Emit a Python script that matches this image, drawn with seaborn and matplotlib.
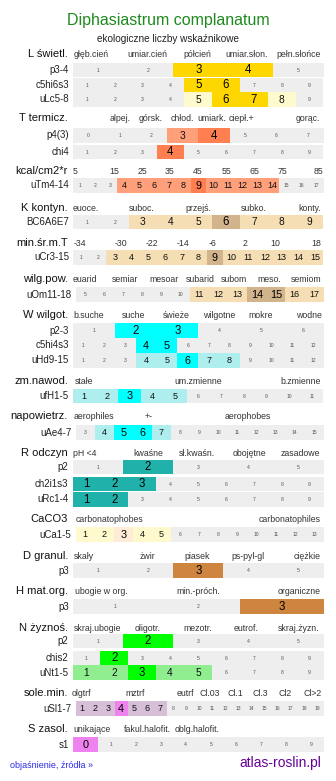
import matplotlib
matplotlib.use("Agg")
import matplotlib.pyplot as plt
import seaborn as sns

# --- dane: skale i wartości wskaźników ---
L_head = ["głęb.cień", "umiar.cień", "półcień", "umiar.słon.", "pełn.słońce"]
L_rows = ["p3-4", "c5hi6s3", "uLc5-8"]
L_scale = [(1, 5), (1, 9), (1, 9)]
L_level = [[0, 0, 2, 2, 0],
           [0, 0, 0, 0, 2, 2, 0, 0, 0],
           [0, 0, 0, 0, 1, 2, 2, 1, 0]]

T_head = ["alpej.", "górsk.", "chłod.", "umiark.", "ciepł.+", "gorąc."]
T_rows = ["p4(3)", "chi4"]
T_scale = [(0, 7), (1, 9)]
T_level = [[0, 0, 0, 1, 2, 0, 0, 0],
           [0, 0, 0, 2, 0, 0, 0, 0, 0]]

kcal_head = ["5", "15", "25", "35", "45", "55", "65", "75", "85"]
kcal_rows = ["uTm4-14"]
kcal_scale = [(1, 17)]
kcal_level = [[0, 0, 0, 1, 1, 1, 1, 1, 2, 1, 1, 1, 1, 1, 0, 0, 0]]

K_head = ["euoce.", "suboc.", "przejś.", "subko.", "konty."]
K_rows = ["BC6A6E7"]
K_scale = [(1, 9)]
K_level = [[0, 0, 1, 1, 1, 2, 1, 1, 1]]

minT_head = ["-34", "-30", "-22", "-14", "-6", "2", "10", "18"]
minT_rows = ["uCr3-15"]
minT_scale = [(1, 15)]
minT_level = [[0, 0, 1, 1, 1, 1, 1, 1, 2, 1, 1, 1, 1, 1, 1]]

wp_head = ["euarid", "semiar", "mesoar", "subarid", "subom", "meso.", "semiom"]
wp_rows = ["uOm11-18"]
wp_scale = [(5, 17)]
wp_level = [[0, 0, 0, 0, 0, 0, 1, 1, 1, 2, 2, 1, 1]]

W_head = ["b.suche", "suche", "świeże", "wilgotne", "mokre", "wodne"]
W_rows = ["p2-3", "c5hi4s3", "uHd9-15"]
W_scale = [(1, 6), (1, 12), (1, 12)]
W_level = [[0, 2, 2, 0, 0, 0],
           [0, 0, 0, 2, 2, 0, 0, 0, 0, 0, 0, 0],
           [0, 0, 0, 1, 1, 2, 1, 1, 0, 0, 0, 0]]

zm_head = ["stałe", "um.zmienne", "b.zmienne"]
zm_rows = ["ufH1-5"]
zm_scale = [(1, 11)]
zm_level = [[1, 1, 2, 1, 1, 0, 0, 0, 0, 0, 0]]

ae_head = ["aerophiles", "+-", "aerophobes"]
ae_rows = ["uAe4-7"]
ae_scale = [(3, 15)]
ae_level = [[0, 1, 2, 2, 1, 0, 0, 0, 0, 0, 0, 0, 0]]

R_head = ["pH <4", "kwaśne", "sł.kwaśn.", "obojętne", "zasadowe"]
R_rows = ["p2", "ch2i1s3", "uRc1-4"]
R_scale = [(1, 5), (1, 9), (1, 9)]
R_level = [[0, 2, 0, 0, 0],
           [2, 2, 2, 0, 0, 0, 0, 0, 0],
           [2, 2, 0, 0, 0, 0, 0, 0, 0]]

Ca_head = ["carbonatophobes", "carbonatophiles"]
Ca_rows = ["uCa1-5"]
Ca_scale = [(1, 13)]
Ca_level = [[1, 1, 2, 1, 1, 0, 0, 0, 0, 0, 0, 0, 0]]

D_head = ["skały", "żwir", "piasek", "ps-pyl-gl", "ciężkie"]
D_rows = ["p3"]
D_scale = [(1, 5)]
D_level = [[0, 0, 2, 0, 0]]

H_head = ["ubogie w org.", "min.-próch.", "organiczne"]
H_rows = ["p3"]
H_scale = [(1, 3)]
H_level = [[0, 0, 2]]

N_head = ["skraj.ubogie", "oligotr.", "mezotr.", "eutrof.", "skraj.żyzn."]
N_rows = ["p2", "chis2", "uNt1-5"]
N_scale = [(1, 5), (1, 9), (1, 9)]
N_level = [[0, 2, 0, 0, 0],
           [0, 2, 0, 0, 0, 0, 0, 0, 0],
           [1, 1, 2, 1, 1, 0, 0, 0, 0]]

sl_head = ["olgtrf", "mztrf", "eutrf", "Cl.03", "Cl.1", "Cl.3", "Cl2", "Cl>2"]
sl_rows = ["uSl1-7"]
sl_scale = [(1, 19)]
sl_level = [[1, 1, 1, 2, 1, 1, 1, 0, 0, 0, 0, 0, 0, 0, 0, 0, 0, 0, 0]]

S_head = ["unikające", "fakul.halofit.", "oblg.halofit."]
S_rows = ["s1"]
S_scale = [(0, 9)]
S_level = [[2, 0, 0, 0, 0, 0, 0, 0, 0, 0]]

# --- układ (piksele) ---
groups = [
    dict(title="L świetl.", head=L_head, hx=[91.5, 147, 197.5, 247, 298.5], hy=54,
         rows=L_rows, scale=L_scale, level=L_level, ry=[70, 85, 99.5],
         col=("#FFFACD", "#FFD700")),
    dict(title="T termicz.", head=T_head, hx=[119.7, 150.5, 182.5, 212, 241.5, 307.5], hy=118,
         rows=T_rows, scale=T_scale, level=T_level, ry=[135.5, 152],
         col=("#FFA07A", "#FF7F50")),
    dict(title="kcal/cm2*r", head=kcal_head, hx=[75, 114, 142, 170, 198, 227, 254, 282, 318], hy=170.5,
         rows=kcal_rows, scale=kcal_scale, level=kcal_level, ry=[185.5],
         col=("#FFA07A", "#FF7F50"), big=True),
    dict(title="K kontyn.", head=K_head, hx=[85.5, 142, 198, 253.5, 309.8], hy=208,
         rows=K_rows, scale=K_scale, level=K_level, ry=[222],
         col=("#F5DEB3", "#D2B48C")),
    dict(title="min.śr.m.T", head=minT_head, hx=[80, 121, 152, 182.7, 213, 245, 275, 316], hy=243,
         rows=minT_rows, scale=minT_scale, level=minT_level, ry=[257.5],
         col=("#F5DEB3", "#D2B48C"), big=True),
    dict(title="wilg.pow.", head=wp_head, hx=[84.5, 125.5, 163.7, 200, 234, 269.7, 306.3], hy=279,
         rows=wp_rows, scale=wp_scale, level=wp_level, ry=[294.5], x0=75.5,
         col=("#F5DEB3", "#D2B48C")),
    dict(title="W wilgot.", head=W_head, hx=[88.7, 134, 176, 218.8, 260.8, 309.3], hy=315,
         rows=W_rows, scale=W_scale, level=W_level, ry=[330.5, 345.3, 360.3],
         col=("#AFEEEE", "#00FFFF")),
    dict(title="zm.nawod.", head=zm_head, hx=[83.7, 198.3, 300.5], hy=381,
         rows=zm_rows, scale=zm_scale, level=zm_level, ry=[396], x0=72.5,
         col=("#AFEEEE", "#00FFFF")),
    dict(title="napowietrz.", head=ae_head, hx=[93.8, 148.3, 247.5], hy=416,
         rows=ae_rows, scale=ae_scale, level=ae_level, ry=[432.5], x0=75.5,
         col=("#AFEEEE", "#00FFFF")),
    dict(title="R odczyn", head=R_head, hx=[85, 148.3, 197, 249.2, 300.5], hy=453,
         rows=R_rows, scale=R_scale, level=R_level, ry=[467.2, 484, 499.5], x0=72.5,
         col=("#20B2AA", "#20B2AA")),
    dict(title="CaCO3", head=Ca_head, hx=[109, 289.2], hy=519,
         rows=Ca_rows, scale=Ca_scale, level=Ca_level, ry=[534.5], x0=75.5,
         col=("#FFFACD", "#FFEBD7")),
    dict(title="D granul.", head=D_head, hx=[83.7, 147, 197.3, 248.3, 307.5], hy=556,
         rows=D_rows, scale=D_scale, level=D_level, ry=[570.5],
         col=("#CD853F", "#CD853F")),
    dict(title="H mat.org.", head=H_head, hx=[101.7, 198.3, 299.2], hy=591,
         rows=H_rows, scale=H_scale, level=H_level, ry=[606.5],
         col=("#CD853F", "#CD853F")),
    dict(title="N żyznoś.", head=N_head, hx=[98, 147.8, 197.5, 245.8, 298.8], hy=628,
         rows=N_rows, scale=N_scale, level=N_level, ry=[641, 658, 672.5], x0=72.5,
         col=("#90EE90", "#00FF00")),
    dict(title="sole.min.", head=sl_head, hx=[81.3, 134.8, 185.5, 210, 235.3, 260.3, 285.3, 312.2], hy=693,
         rows=sl_rows, scale=sl_scale, level=sl_level, ry=[708.5], x0=75.5,
         col=("#D8BFD8", "#EE82EE")),
    dict(title="S zasol.", head=S_head, hx=[92.5, 147.5, 197.5], hy=729,
         rows=S_rows, scale=S_scale, level=S_level, ry=[744.5],
         col=("#D8BFD8", "#EE82EE")),
]

GRAY = "#EEEEEE"
X1 = 323.5
ROW_H = 14.4

sns.set_theme(style="white")
plt.rcParams['font.family'] = ['Liberation Sans', 'DejaVu Sans']

fig = plt.figure(figsize=(3.36, 7.81), dpi=100)
ax = fig.add_axes([0, 0, 1, 1])
ax.set_xlim(0, 336)
ax.set_ylim(781, 0)
ax.axis("off")

ax.text(168, 20, "Diphasiastrum complanatum", ha="center", va="center",
        fontsize=11.5, color="#1E8A1E")
ax.text(168, 39, "ekologiczne liczby wskaźnikowe", ha="center", va="center",
        fontsize=7.2, color="#222222")

for g in groups:
    ax.text(68, g["hy"], g["title"], ha="right", va="center", fontsize=8, color="#111111")
    for lab, x in zip(g["head"], g["hx"]):
        ax.text(x, g["hy"] + 0.5, lab, ha="center", va="center", fontsize=6.3, color="#333333")
    x0 = g.get("x0", 73)
    for name, (a, b), lev, y in zip(g["rows"], g["scale"], g["level"], g["ry"]):
        vals = list(range(a, b + 1))
        n = len(vals)
        w = (X1 - x0) / n
        lefts = [x0 + i * w for i in range(n)]
        colors = [GRAY if l == 0 else g["col"][l - 1] for l in lev]
        ax.barh(y, w, left=lefts, height=ROW_H, color=colors, linewidth=0, align="center")
        ax.text(x0 - 4, y, name, ha="right", va="center", fontsize=7, color="#222222")
        for v, l, xl in zip(vals, lev, lefts):
            if l == 0:
                fs, c = 3.6, "#555555"
            elif l == 1:
                fs, c = 6.5 if g.get("big") or n > 9 else 7.3, "#111111"
            else:
                fs, c = 7.8 if n > 9 else 8.3, "#000000"
            ax.text(xl + w / 2, y + 0.3, str(v), ha="center", va="center", fontsize=fs, color=c)

ax.text(10, 766, "objaśnienie, źródła »", ha="left", va="center", fontsize=6.5, color="#2B2BE6")
ax.text(321, 763, "atlas-roslin.pl", ha="right", va="center", fontsize=10, color="#660099")

fig.savefig("out.png", dpi=100)
